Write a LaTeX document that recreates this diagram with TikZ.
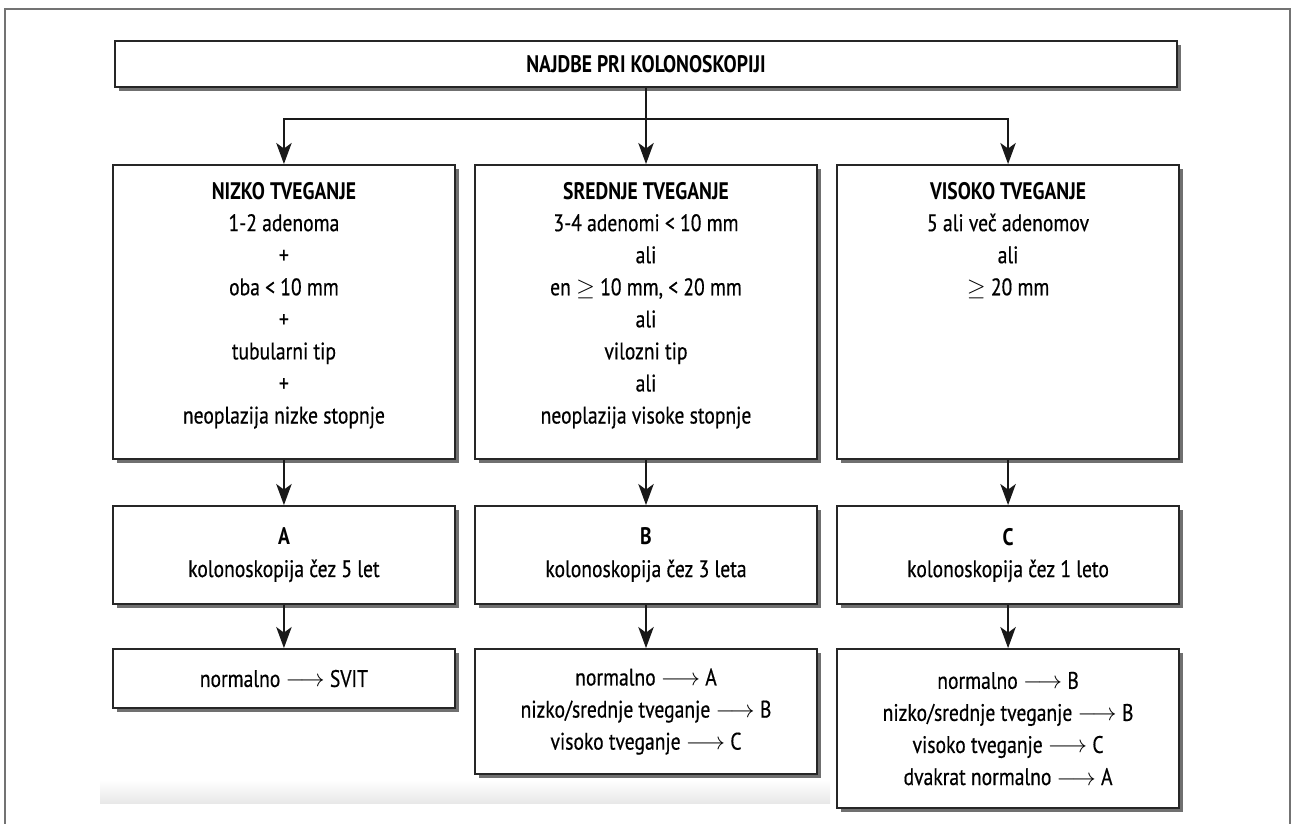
\documentclass[tikz,border=0pt]{standalone}
\usepackage{fontspec}
\setmainfont{PT Sans}[FakeStretch=0.82, UprightFeatures={FakeBold=0.5}]
\usetikzlibrary{arrows.meta, positioning, shadows}

\tikzset{
  box/.style={draw=black!85, line width=1.4pt, fill=white, align=center,
    font=\fontsize{17}{22.8}\selectfont, inner sep=0pt, minimum width=8.55cm,
    drop shadow={shadow xshift=3pt, shadow yshift=-3pt, fill=black!70, opacity=0.8}},
  riskbox/.style={box, minimum height=7.35cm},
  planbox/.style={box, minimum height=2.45cm},
  flow/.style={-{Stealth[length=15pt, width=11pt, inset=4pt]}, line width=1pt, draw=black!90},
}
\newcommand{\risktext}[1]{\parbox[c][6.5cm][t]{8.4cm}{\centering #1}}
\newcommand{\lto}{~$\longrightarrow$~}

\begin{document}
\begin{tikzpicture}[x=0.025cm, y=-0.025cm]
    \useasboundingbox (0,0) rectangle (1292,823);
    % Frame and faint scan band
    \shade[top color=white, bottom color=black!9] (100,780) rectangle (830,803);
    \draw[black!55, line width=0.8pt] (5,840) -- (5,9) -- (1290,9) -- (1290,840);

    % Title
    \node (najdbe) [box, minimum width=26.55cm, minimum height=1.15cm] at (646,64) {\textbf{NAJDBE PRI KOLONOSKOPIJI}};
    \coordinate [below=0.775cm of najdbe] (fork);

    % Risk groups
    \node (srednje) [riskbox, below=1.9cm of najdbe] {\risktext{\textbf{SREDNJE TVEGANJE}\\
        3-4 adenomi < 10 mm\\ ali\\ en $\geq$ 10 mm, < 20 mm\\ ali\\ vilozni tip\\ ali\\ neoplazija visoke stopnje}};
    \node (nizko) [riskbox, left=0.45cm of srednje] {\risktext{\textbf{NIZKO TVEGANJE}\\
        1-2 adenoma\\ +\\ oba < 10 mm\\ +\\ tubularni tip\\ +\\ neoplazija nizke stopnje}};
    \node (visoko) [riskbox, right=0.45cm of srednje] {\risktext{\textbf{VISOKO TVEGANJE}\\
        5 ali več adenomov\\ ali\\ $\geq$ 20 mm}};

    % Surveillance intervals
    \node (A) [planbox, below=1.125cm of nizko] {\textbf{A}\\ kolonoskopija čez 5 let};
    \node (B) [planbox, below=1.125cm of srednje] {\textbf{B}\\ kolonoskopija čez 3 leta};
    \node (C) [planbox, below=1.125cm of visoko] {\textbf{C}\\ kolonoskopija čez 1 leto};

    % Follow-up results
    \node (izidA) [box, minimum height=1.475cm, below=1.075cm of A] {normalno\lto SVIT};
    \node (izidB) [box, minimum height=3.125cm, below=1.075cm of B] {normalno\lto A\\
        nizko/srednje tveganje\lto B\\ visoko tveganje\lto C};
    \node (izidC) [box, minimum height=3.975cm, below=1.075cm of C] {normalno\lto B\\
        nizko/srednje tveganje\lto B\\ visoko tveganje\lto C\\ dvakrat normalno\lto A};

    % Connectors
    \draw[flow] (najdbe) -- (srednje);
    \draw[flow] (fork) -| (nizko);
    \draw[flow] (fork) -| (visoko);
    \draw[flow] (nizko) -- (A);
    \draw[flow] (srednje) -- (B);
    \draw[flow] (visoko) -- (C);
    \draw[flow] (A) -- (izidA);
    \draw[flow] (B) -- (izidB);
    \draw[flow] (C) -- (izidC);
\end{tikzpicture}
\end{document}
